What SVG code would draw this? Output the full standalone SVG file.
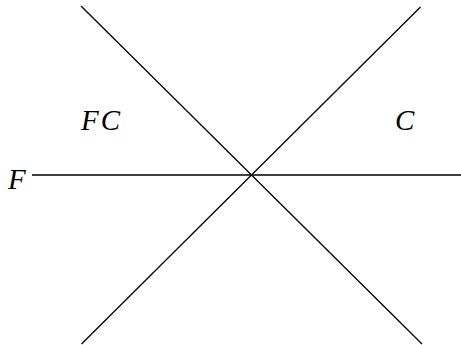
<svg xmlns="http://www.w3.org/2000/svg" width="461" height="345" viewBox="0 0 461 345">
<style>
.ln{stroke:#000;stroke-width:1.3;fill:none}
.lb{font-family:"Liberation Serif","Times New Roman",serif;font-style:italic;font-size:29px;fill:#000}
</style>
<rect width="461" height="345" fill="#fff"/>
<g id="connectors">
<line class="ln" x1="81" y1="6" x2="422" y2="344"/>
<line class="ln" x1="420.5" y1="7" x2="81.5" y2="344"/>
<line class="ln" x1="32" y1="175" x2="461" y2="175"/>
</g>
<g id="label-F"><text class="lb" x="8" y="189">F</text></g>
<g id="label-FC"><text class="lb" x="81" y="130" letter-spacing="2">FC</text></g>
<g id="label-C"><text class="lb" x="395" y="130">C</text></g>
</svg>
